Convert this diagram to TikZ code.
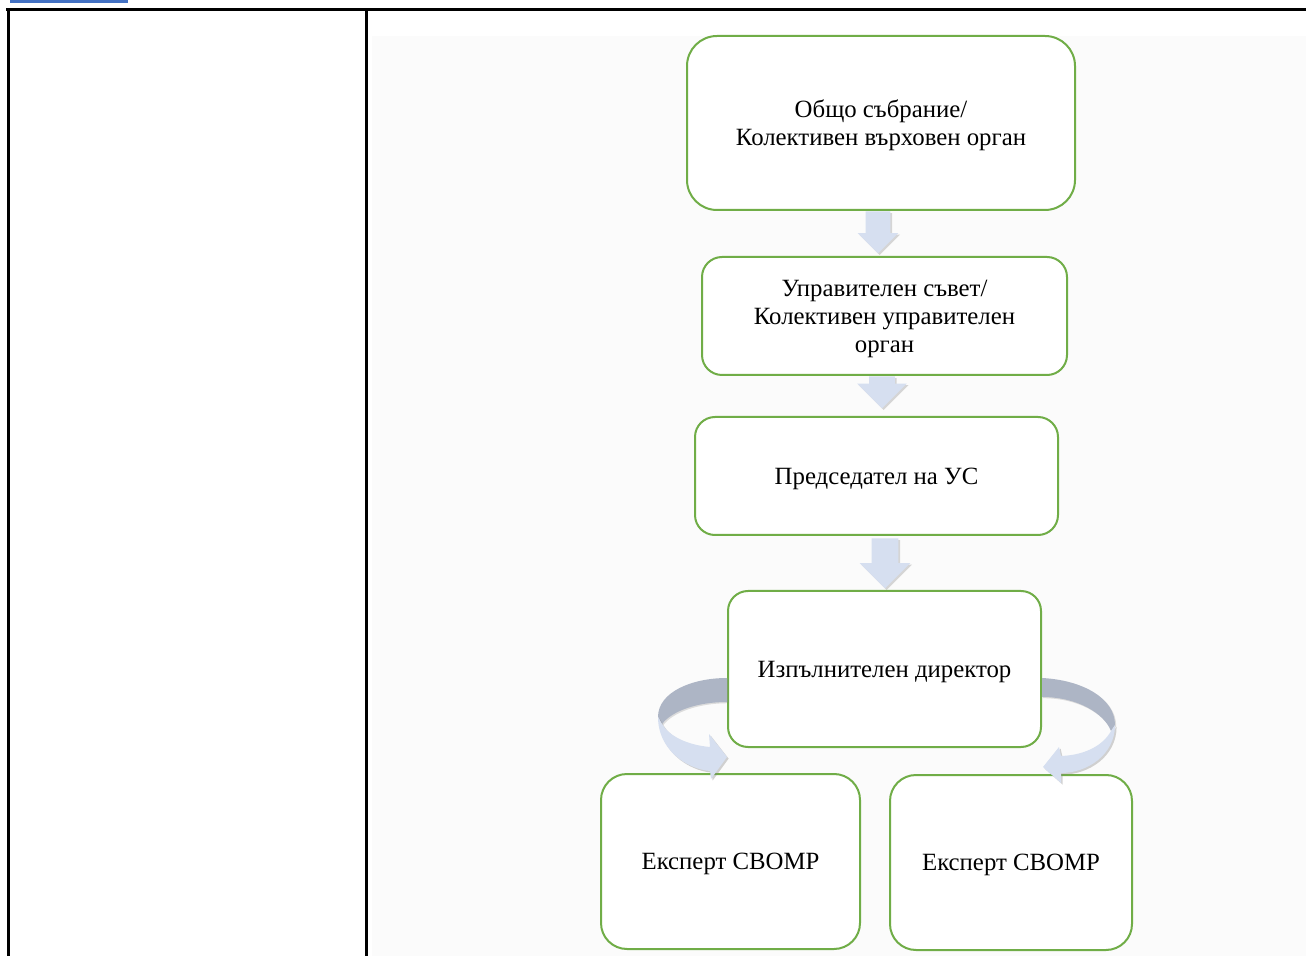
\documentclass[tikz,border=0pt]{standalone}
\usepackage{fontspec}
\setmainfont{Liberation Serif}
\usetikzlibrary{shapes.arrows, shadows, calc}

\definecolor{boxgreen}{HTML}{70AD47}
\definecolor{arrowblue}{HTML}{D6DFF0}
\definecolor{ribbongrey}{HTML}{ADB5C5}
\definecolor{barblue}{HTML}{4472C4}

\tikzstyle{orgbox} = [rectangle, rounded corners=10pt, draw=boxgreen, line width=1pt, fill=white, align=center, inner sep=2pt, text depth=0pt, font=\fontsize{12.4}{14}\selectfont]
\tikzstyle{downarrow} = [single arrow, rotate=-90, anchor=tip, fill=arrowblue, draw=none, inner sep=0pt, single arrow head indent=0pt, drop shadow={shadow xshift=0.8pt, shadow yshift=-0.8pt, opacity=0.3}]
\tikzstyle{tableline} = [line width=1.5pt, black]
\tikzstyle{ribbonback} = [fill=ribbongrey, drop shadow={shadow xshift=0.6pt, shadow yshift=-0.6pt, opacity=0.25}]
\tikzstyle{ribbonfront} = [fill=arrowblue, drop shadow={shadow xshift=0.8pt, shadow yshift=-0.8pt, opacity=0.35}]

\begin{document}
\begin{tikzpicture}[x=0.5pt, y=-0.5pt]
\useasboundingbox (0,0) rectangle (1306,956);

% table frame
\fill[black!1.5] (372,36) rectangle (1306,956);
\fill[barblue] (10,0) rectangle (128,3);
\draw[tableline] (6,10) -- (1306,10);
\draw[tableline] (8,10) -- (8,956);
\draw[tableline] (366,10) -- (366,956);

% boxes
\node (assembly) [orgbox, rounded corners=15pt, minimum width=194pt, minimum height=87pt] at (881,123) {Общо събрание/\\Колективен върховен орган};
\node (board) [orgbox, minimum width=182.5pt, minimum height=59pt] at (884.5,316) {Управителен съвет/\\Колективен управителен\\орган};
\node (chair) [orgbox, minimum width=181.5pt, minimum height=59pt] at (876.5,476) {Председател на УС};
\node (director) [orgbox, minimum width=156.5pt, minimum height=78pt] at (884.5,669) {Изпълнителен директор};
\node (expertA) [orgbox, rounded corners=13pt, minimum width=129.5pt, minimum height=87.5pt] at (730.5,861.5) {Експерт СВОМР};
\node (expertB) [orgbox, rounded corners=13pt, minimum width=121pt, minimum height=87.5pt] at (1011,862.5) {Експерт СВОМР};

% block arrows
\node (arrowA) [downarrow, minimum height=21pt, single arrow head extend=4pt] at ($(board.north)+(-6.5,-2)$) {\rule{0pt}{12pt}};
\node (arrowB) [downarrow, minimum height=16pt, single arrow head extend=6pt] at ($(chair.north)+(5.5,-7)$) {\rule{0pt}{12.5pt}};
\node (arrowC) [downarrow, minimum height=25pt, single arrow head extend=6pt] at ($(director.north)+(0.5,-1)$) {\rule{0pt}{13pt}};

% curved arrows
\coordinate (leftcurl) at ($(director.west)+(0,9)$);
\coordinate (rightcurl) at ($(director.east)+(0,9)$);
\begin{scope}[shift={(leftcurl)}]
  \path[ribbonback] (0,0) .. controls (-35,0) and (-69,14) .. (-69,39) -- (-65,46)
    .. controls (-55,33) and (-30,24) .. (0,24) -- cycle;
  \path[ribbonfront] (-69,39) .. controls (-69,72) and (-40,91) .. (-17,93) -- (-16,101) -- (0,79)
    -- (-18,56) -- (-17,69) .. controls (-40,67) and (-58,58) .. (-65,46) -- cycle;
\end{scope}
\begin{scope}[shift={(rightcurl)}, xscale=-1]
  \path[ribbonback] (0,0) .. controls (-40,2) and (-73,20) .. (-73,47) -- (-69,53)
    .. controls (-62,35) and (-35,19) .. (0,19) -- cycle;
  \path[ribbonfront] (-73,47) .. controls (-73,77) and (-45,95) .. (-19,95) -- (-19,105) -- (-1,89)
    -- (-17,69) -- (-19,78) .. controls (-45,77) and (-62,66) .. (-69,53) -- cycle;
\end{scope}

\end{tikzpicture}
\end{document}
